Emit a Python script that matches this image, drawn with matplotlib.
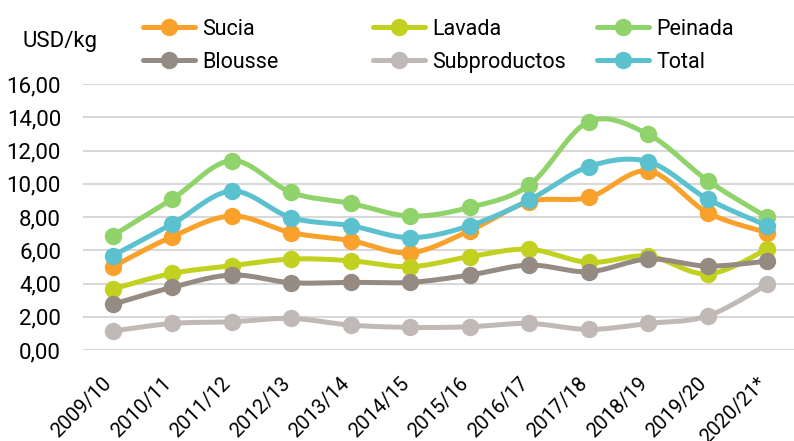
import numpy as np
import matplotlib.pyplot as plt
from matplotlib.lines import Line2D
from matplotlib.ticker import FuncFormatter

plt.rcParams['font.family'] = ['Roboto', 'DejaVu Sans']

seasons = ["2009/10", "2010/11", "2011/12", "2012/13", "2013/14", "2014/15",
           "2015/16", "2016/17", "2017/18", "2018/19", "2019/20", "2020/21*"]
sucia = [5.01, 6.82, 8.06, 7.06, 6.58, 5.85, 7.18, 8.92, 9.18, 10.77, 8.26, 7.06]
lavada = [3.67, 4.61, 5.07, 5.47, 5.37, 5.01, 5.62, 6.06, 5.27, 5.65, 4.57, 6.06]
peinada = [6.88, 9.08, 11.39, 9.48, 8.82, 8.06, 8.58, 9.92, 13.73, 12.97, 10.19, 7.98]
blousse = [2.75, 3.77, 4.51, 4.05, 4.07, 4.07, 4.51, 5.11, 4.71, 5.47, 5.05, 5.35]
subproductos = [1.14, 1.60, 1.70, 1.90, 1.50, 1.36, 1.40, 1.60, 1.24, 1.60, 2.05, 3.95]
total = [5.67, 7.58, 9.56, 7.96, 7.48, 6.76, 7.48, 9.02, 11.03, 11.33, 9.08, 7.48]

series = [
    ("Sucia", sucia, "#F9A12B"),
    ("Lavada", lavada, "#C2D11F"),
    ("Peinada", peinada, "#8FD36A"),
    ("Blousse", blousse, "#958B82"),
    ("Subproductos", subproductos, "#C1B9B5"),
    ("Total", total, "#5BC1CF"),
]


def smooth(x, y, n=30):
    # Excel-style smoothed line (Catmull-Rom through the points)
    x = np.asarray(x, float)
    y = np.asarray(y, float)
    px = np.concatenate([[x[0]], x, [x[-1]]])
    py = np.concatenate([[y[0]], y, [y[-1]]])
    xs, ys = [], []
    t = np.linspace(0, 1, n)
    for i in range(1, len(px) - 2):
        p0, p1, p2, p3 = (np.array([px[j], py[j]]) for j in (i - 1, i, i + 1, i + 2))
        c1 = p1 + (p2 - p0) / 6
        c2 = p2 - (p3 - p1) / 6
        pts = ((1 - t) ** 3)[:, None] * p1 + (3 * (1 - t) ** 2 * t)[:, None] * c1 \
            + (3 * (1 - t) * t ** 2)[:, None] * c2 + (t ** 3)[:, None] * p2
        xs.extend(pts[:, 0])
        ys.extend(pts[:, 1])
    return xs, ys


fig = plt.figure(figsize=(7.94, 4.41), dpi=100)
ax = fig.add_axes([0.1045, 0.2063, 0.8955, 0.6032])

x = np.arange(len(seasons))
for name, vals, color in series:
    sx, sy = smooth(x, vals)
    ax.plot(sx, sy, color=color, lw=3.6, solid_capstyle='round', zorder=3)
    ax.plot(x, vals, 'o', color=color, ms=11.5, zorder=4)

ax.set_ylim(0, 16)
ax.set_xlim(-0.5, 11.45)
ax.set_yticks(np.arange(0, 17, 2))
ax.yaxis.set_major_formatter(FuncFormatter(lambda v, p: f"{v:.2f}".replace(".", ",")))
ax.set_xticks(x)
ax.set_xticklabels(seasons, rotation=45, ha='right', va='baseline',
                   rotation_mode='anchor', fontsize=14.5)
ax.tick_params(axis='both', length=0, colors='black')
ax.tick_params(axis='y', labelsize=16, pad=15.8)
ax.tick_params(axis='x', pad=24.5)
ax.grid(axis='y', color='#D9D9D9', lw=1.5)
ax.set_axisbelow(True)
for s in ax.spines.values():
    s.set_visible(False)

fig.text(22 / 794, 1 - 42 / 441, "USD/kg", fontsize=16, va='center', ha='left')

# legend: three columns of two rows
cols = [(0, 3), (1, 4), (2, 5)]
anchors = [143, 373, 597]
for (a, b), xa in zip(cols, anchors):
    handles = []
    for k in (a, b):
        name, vals, color = series[k]
        handles.append(Line2D([], [], color=color, lw=3.6, marker='o', ms=11.5,
                              solid_capstyle='round', label=name))
    fig.legend(handles=handles, loc='upper left',
               bbox_to_anchor=(xa / 794, 1 - 19 / 441), frameon=False,
               fontsize=15.5, handlelength=2.4, handletextpad=0.35,
               labelspacing=0.54, borderpad=0, borderaxespad=0,
               numpoints=1)

fig.savefig("out.png", dpi=100)
